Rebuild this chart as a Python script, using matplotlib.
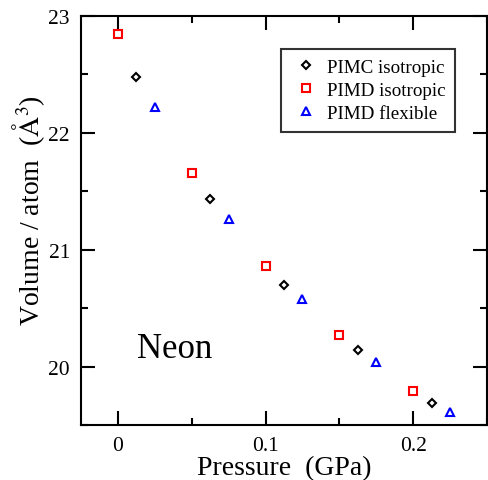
import numpy as np
import matplotlib
matplotlib.use("Agg")
import matplotlib.pyplot as plt
from matplotlib.ticker import MultipleLocator

plt.rcParams['font.family'] = ['Liberation Serif', 'DejaVu Serif']
plt.rcParams['mathtext.fontset'] = 'stix'

# data
p_pimc = [0.0125, 0.0625, 0.1125, 0.1625, 0.2125]
v_pimc = [22.48, 21.43, 20.70, 20.14, 19.69]

p_pimd_iso = [0.0, 0.05, 0.10, 0.15, 0.20]
v_pimd_iso = [22.85, 21.66, 20.86, 20.27, 19.79]

p_pimd_flex = [0.025, 0.075, 0.125, 0.175, 0.225]
v_pimd_flex = [22.22, 21.26, 20.58, 20.04, 19.61]

fig = plt.figure(figsize=(4.88, 4.81), dpi=100)
ax = fig.add_axes([0.166, 0.1143, 0.832, 0.8504])

ax.plot(p_pimc, v_pimc, 'D', ms=4.5, mfc='none', mec='black', mew=1.5,
        ls='none', label='PIMC isotropic')
ax.plot(p_pimd_iso, v_pimd_iso, 's', ms=5.5, mfc='none', mec='red', mew=1.5,
        ls='none', label='PIMD isotropic')
ax.plot(p_pimd_flex, v_pimd_flex, '^', ms=6, mfc='none', mec='blue', mew=1.5,
        ls='none', label='PIMD flexible')

ax.set_xlim(-0.025, 0.25)
ax.set_ylim(19.5, 23)
ax.xaxis.set_major_locator(MultipleLocator(0.1))
ax.xaxis.set_minor_locator(MultipleLocator(0.05))
ax.yaxis.set_major_locator(MultipleLocator(1))
ax.yaxis.set_minor_locator(MultipleLocator(0.5))
ax.xaxis.set_major_formatter(plt.FuncFormatter(lambda v, _: '0' if abs(v) < 1e-9 else '%g' % v))

ax.tick_params(which='both', direction='in', top=True, right=True, width=1.5,
               labelsize=15.5, pad=8)
ax.tick_params(which='major', length=10)
ax.tick_params(which='minor', length=5)
for s in ax.spines.values():
    s.set_linewidth(1.5)

ax.set_xlabel('Pressure  (GPa)', fontsize=20, labelpad=0)
ax.set_ylabel(r'Volume / atom  ($\mathrm{\AA}^3$)', fontsize=20, labelpad=1)
ax.yaxis.label.set_y(0.527)

ax.text(0.0128, 20.085, 'Neon', fontsize=25, va='baseline', ha='left')

leg = ax.legend(loc='upper right', bbox_to_anchor=(0.921, 0.919), fontsize=13.7,
                frameon=True, fancybox=False, handlelength=1.6, handletextpad=0.3,
                borderpad=0.5, labelspacing=0.3, borderaxespad=0)
leg.get_frame().set_edgecolor('black')
leg.get_frame().set_linewidth(1.5)

fig.savefig('out.png', dpi=100)
